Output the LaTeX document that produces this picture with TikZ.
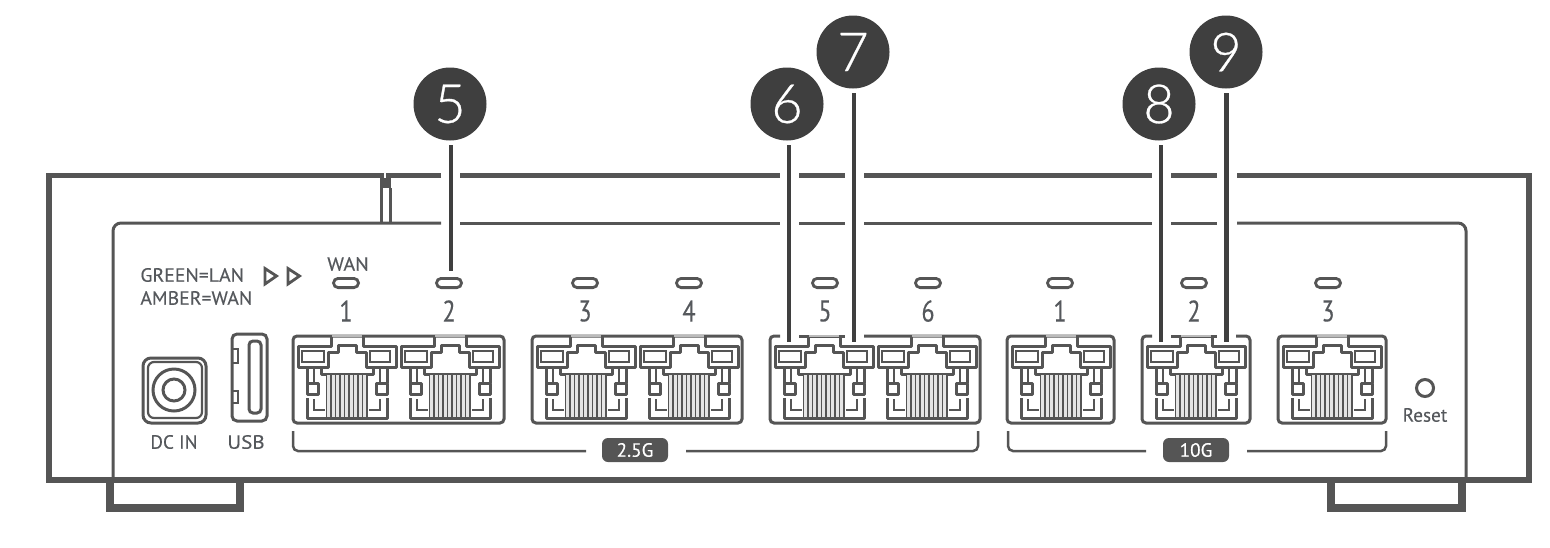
\documentclass[tikz,border=0pt]{standalone}
\usepackage{fontspec}
\setmainfont{PT Sans}[FakeBold=0.3]
\newfontfamily\thinfont{Lato Light}[FakeBold=0.5]
\definecolor{ln}{HTML}{555555}
\definecolor{dk}{HTML}{3F3F3F}
\definecolor{tx}{HTML}{55585C}
\newcommand{\cond}[2][1.03]{\scalebox{#1}[1]{#2}}
\tikzset{
  x=0.5pt,y=-0.5pt,
  heavy/.style={draw=ln,line width=2.8pt},
  foot/.style={draw=ln,line width=3.6pt},
  panel/.style={draw=ln,line width=1.5pt},
  portln/.style={draw=ln,line width=1.5pt,line join=round},
  portin/.style={draw=ln,line width=1.3pt,line join=miter},
  bracket/.style={draw=ln,line width=1.25pt,rounded corners=2.5pt},
  pill/.style={draw=ln,line width=1.4pt,rectangle,rounded corners=2.3pt,minimum width=12.5pt,minimum height=4.6pt,inner sep=0pt},
  callout/.style={draw=dk,line width=2.3pt,shorten <=2.25pt},
  badge/.style={circle,fill=dk,text=white,minimum size=36.5pt,inner sep=0pt,font=\thinfont\fontsize{27}{27}\selectfont},
  num/.style={text=tx,inner sep=0pt,font=\fontsize{15}{15}\selectfont},
  lbl/.style={text=tx,inner sep=0pt,font=\fontsize{9.6}{10}\selectfont},
  tag/.style={rectangle,rounded corners=3pt,fill=ln,text=white,inner sep=0pt,minimum width=33pt,minimum height=12pt,font=\fontsize{9.6}{10}\selectfont},
  pf/.style={draw=ln,line width=1.5pt,rounded corners=2pt},
}
\newcommand{\jackport}[1]{%
  \begin{scope}[shift={(#1,336)}]
    \draw[portln] (38,0)--(38,10)--(5,10)--(5,31)--(35,31)--(35,16)--(45,16)--(45,9)--(63,9)--(63,16)--(73,16)--(73,31)--(103,31)--(103,10)--(70,10)--(70,0);
    \draw[draw=ln!40,line width=1.3pt] (39,0)--(69,0);
    \draw[portin] (9,15) rectangle (31,26);
    \draw[portin] (77,15) rectangle (97,26);
    \draw[portln] (28,31)--(28,38)--(80,38)--(80,31);
    \fill[ln!15] (33,39) rectangle (75,82);
    \foreach \p in {33.5,38,42.5,47,51.5,56,60.5,65,69.5,74}{\draw[draw=ln,line width=0.55pt] (\p,39)--(\p,82);}
    \draw[portln] (14,31)--(14,47);
    \draw[portln] (94,31)--(94,47);
    \draw[portln] (14,62)--(14,82)--(94,82)--(94,62);
    \draw[portin] (21,31)--(21,47);
    \draw[portin] (87,31)--(87,47);
    \draw[portln,fill=white] (14,47) rectangle (25,58);
    \draw[portln,fill=white] (83,47) rectangle (94,58);
    \draw[portin] (21,63)--(21,74)--(32,74);
    \draw[portin] (87,63)--(87,74)--(76,74);
  \end{scope}}
\begin{document}
\begin{tikzpicture}
\useasboundingbox (0,0) rectangle (1550,547);
% body, top with gaps at the call-out lines
\draw[heavy] (441,175.5)--(49,175.5)--(49,480)--(1529,480)--(1529,175.5)--(1237,175.5);
\foreach \a/\b in {460/780,799/845,864/1152,1171/1217}{\draw[heavy] (\a,175.5)--(\b,175.5);}
\draw[draw=white,line width=0.8pt] (385,172.5)--(385,178.5);
\fill[ln] (380,178) rectangle (391,188);
\draw[panel] (381,188)--(381,223);
\draw[panel] (390,188)--(390,223);
% panel
\draw[panel,rounded corners=4pt] (113,480)--(113,223)--(441,223);
\draw[panel,rounded corners=4pt] (1237,223)--(1466,223)--(1466,480);
\foreach \a/\b in {460/780,799/845,864/1152,1171/1217}{\draw[panel] (\a,223)--(\b,223);}
% feet
\draw[foot] (110,480)--(110,508)--(240,508)--(240,480);
\draw[foot] (1331,480)--(1331,508)--(1462,508)--(1462,480);
% port frames
\draw[pf] (293,336) rectangle (504,423);
\draw[pf] (532,336) rectangle (742,423);
\draw[pf] (780,336)--(770,336)--(770,423)--(980,423)--(980,336)--(864,336);
\draw[pf] (799,336)--(845,336);
\draw[pf] (1007,336) rectangle (1114,423);
\draw[pf] (1152,336)--(1142,336)--(1142,423)--(1250,423)--(1250,336)--(1236,336);
\draw[pf] (1171,336)--(1217,336);
\draw[pf] (1278,336) rectangle (1386,423);
\foreach \j in {293,396,532,635,770,873,1007,1142,1278}{\jackport{\j}}
% LEDs
\node[pill] (led1) at (346,283) {};
\node[pill] (led2) at (449,283) {};
\node[pill] (led3) at (585,283) {};
\node[pill] (led4) at (689,283) {};
\node[pill] (led5) at (825,283) {};
\node[pill] (led6) at (928,283) {};
\node[pill] (ledA) at (1060,283) {};
\node[pill] (ledB) at (1194,283) {};
\node[pill] (ledC) at (1328,283) {};
% port numbers
\node[num] (n1) at (346,311) {\cond[0.8]{1}};
\node[num] (n2) at (449,311) {\cond[0.8]{2}};
\node[num] (n3) at (585,311) {\cond[0.8]{3}};
\node[num] (n4) at (689,311) {\cond[0.8]{4}};
\node[num] (n5) at (825,311) {\cond[0.8]{5}};
\node[num] (n6) at (928,311) {\cond[0.8]{6}};
\node[num] (nA) at (1060,311) {\cond[0.8]{1}};
\node[num] (nB) at (1194,311) {\cond[0.8]{2}};
\node[num] (nC) at (1328,311) {\cond[0.8]{3}};
% texts
\node[lbl,anchor=west] (green) at (140,275) {\cond{GREEN=LAN}};
\node[lbl,anchor=west] (amber) at (140,298) {\cond{AMBER=WAN}};
\node[lbl] (wan) at (348,264) {\cond[1.05]{WAN}};
\node[lbl] (dcin) at (174,442) {\cond[1]{DC IN}};
\node[lbl] (usb) at (246,442) {\cond[1.1]{USB}};
\node[lbl] (reset) at (1425,415) {\cond[1]{Reset}};
% triangles
\draw[draw=ln,line width=1.4pt,line join=miter] (265,268.5)--(265,284)--(276.5,276)--cycle;
\draw[draw=ln,line width=1.4pt,line join=miter] (288,268.5)--(288,284)--(299.5,276)--cycle;
% DC jack
\draw[draw=ln,line width=1.5pt,rounded corners=4pt] (143,358) rectangle (206,423);
\draw[draw=ln,line width=1.1pt,rounded corners=3pt] (148,362) rectangle (202,418);
\draw[draw=ln,line width=1.5pt] (174,390) circle (21);
\draw[draw=ln,line width=1.5pt] (174,390) circle (11);
% USB
\draw[draw=ln,line width=1.5pt,rounded corners=2.5pt] (232,334)--(267,334)--(267,421)--(232,421)--cycle;
\draw[draw=ln,line width=1.5pt,rounded corners=2pt] (249,341) rectangle (261,413);
\draw[draw=ln,line width=1.2pt] (232,349)--(238,349)--(238,363)--(232,363);
\draw[draw=ln,line width=1.2pt] (232,391)--(238,391)--(238,403)--(232,403);
% reset
\draw[draw=ln,line width=1.5pt] (1425,388) circle (8.5);
% brackets and speed tags
\node[tag] (t25) at (635,450) {\cond[1]{2.5G}};
\node[tag] (t10) at (1196,450) {\cond[1]{10G}};
\coordinate (b1) at (293,431);
\coordinate (b2) at (586,451);
\coordinate (b3) at (686,451);
\coordinate (b4) at (978,431);
\coordinate (b5) at (1008,431);
\coordinate (b6) at (1146,451);
\coordinate (b7) at (1247,451);
\coordinate (b8) at (1386,431);
\draw[bracket] (b1)--(b1|-b2)--(b2);
\draw[bracket] (b3)--(b3-|b4)--(b4);
\draw[bracket] (b5)--(b5|-b6)--(b6);
\draw[bracket] (b7)--(b7-|b8)--(b8);
% call-outs
\node[badge] (c5) at (450,104) {5};
\node[badge] (c6) at (787,104) {6};
\node[badge] (c7) at (853,52) {7};
\node[badge] (c8) at (1159,104) {8};
\node[badge] (c9) at (1226,52) {9};
\coordinate (e5) at (451,271);
\coordinate (e6) at (789,342);
\coordinate (e7) at (854,342);
\coordinate (e8) at (1161,342);
\coordinate (e9) at (1226.5,342);
\foreach \i in {5,6,7,8,9}{\draw[callout] (c\i.south -| e\i)--(e\i);}
\end{tikzpicture}
\end{document}
